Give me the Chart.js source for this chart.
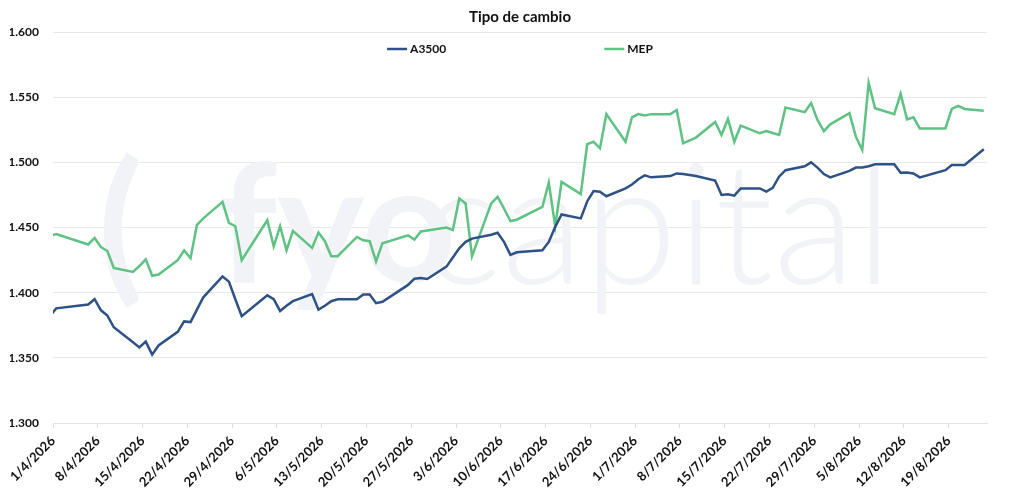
<!DOCTYPE html>
<html lang="es">
<head>
    <meta charset="UTF-8">
    <title>Tipo de cambio</title>
    <script src="https://cdn.jsdelivr.net/npm/chart.js"></script>
    <style>
        html, body {
            margin: 0;
            padding: 0;
            background: #ffffff;
        }

        #contenedor {
            width: 1024px;
            height: 502px;
        }
    </style>
</head>
<body>
<div id="contenedor">
    <canvas id="tipoCambioCanvas"></canvas>
</div>

<script>
    // Fechas con cotización (2026)
    const fechas = [
        '31/3', '1/4', '6/4', '7/4', '8/4', '9/4', '10/4', '13/4', '14/4', '15/4', '16/4', '17/4',
        '20/4', '21/4', '22/4', '23/4', '24/4', '27/4', '28/4', '29/4', '30/4',
        '4/5', '5/5', '6/5', '7/5', '8/5', '11/5', '12/5', '13/5', '14/5', '15/5',
        '18/5', '19/5', '20/5', '21/5', '22/5', '26/5', '27/5', '28/5', '29/5',
        '1/6', '2/6', '3/6', '4/6', '5/6', '8/6', '9/6', '10/6', '11/6', '12/6',
        '16/6', '17/6', '18/6', '19/6', '22/6', '23/6', '24/6', '25/6', '26/6', '29/6', '30/6',
        '1/7', '2/7', '3/7', '6/7', '7/7', '8/7', '10/7', '13/7', '14/7', '15/7', '16/7', '17/7',
        '20/7', '21/7', '22/7', '23/7', '24/7', '27/7', '28/7', '29/7', '30/7', '31/7',
        '3/8', '4/8', '5/8', '6/8', '7/8', '10/8', '11/8', '12/8', '13/8', '14/8',
        '18/8', '19/8', '20/8', '21/8', '24/8'
    ];

    const a3500 = [
        1382, 1388, 1391, 1395, 1386.5, 1382.5, 1373.5, 1362, 1358, 1362.5, 1352.5, 1359.5,
        1370, 1378, 1377.5, 1387, 1396.5, 1412.5, 1408.5, 1395, 1382,
        1398, 1395, 1386, 1390, 1393.5, 1399, 1387, 1390, 1393.5, 1395,
        1395, 1398.7, 1398.7, 1392, 1393, 1406, 1410.8, 1411.3, 1410.5,
        1420, 1427, 1434, 1439, 1441.5, 1444.5, 1446, 1439, 1429, 1431,
        1432.5, 1439, 1450.5, 1460, 1457, 1470, 1478, 1477.5, 1474, 1480, 1483,
        1487, 1490, 1488.5, 1489.5, 1491.5, 1491, 1489.5, 1486, 1475, 1475.5, 1474.5, 1480,
        1480, 1477.5, 1480.5, 1489, 1494, 1497, 1500, 1496, 1491, 1488.5,
        1493.5, 1496, 1496, 1497, 1498.5, 1498.5, 1492, 1492.3, 1491.5, 1488.5,
        1494, 1498, 1498, 1498, 1510
    ];

    const mep = [
        1443.5, 1445, 1437, 1442, 1435, 1432, 1419, 1416, 1420.5, 1425.6, 1413, 1414,
        1425, 1432.5, 1426.5, 1452, 1457, 1469.7, 1453.5, 1451, 1425,
        1455.6, 1435.6, 1451, 1432.5, 1447.4, 1434.3, 1446.2, 1439.5, 1428, 1428,
        1442.8, 1440.2, 1439.5, 1424, 1438, 1444, 1440.7, 1447, 1447.8,
        1450, 1448, 1472.3, 1468.5, 1428, 1468.5, 1473.5, 1464.6, 1455, 1456,
        1465.8, 1484.5, 1451, 1485, 1475.6, 1514, 1515.8, 1510.8, 1537, 1515.8, 1534.6,
        1537, 1536, 1537, 1537, 1540.2, 1514.6, 1519, 1531, 1521, 1533.3, 1515.8, 1528.2,
        1522.3, 1524, 1522.5, 1521, 1542, 1538.5, 1545.4, 1532.5, 1524, 1529.2,
        1537.7, 1519.7, 1509.5, 1561, 1541.5, 1537, 1552.5, 1533, 1534.6, 1526,
        1526, 1541, 1543.3, 1541, 1539.5
    ];

    // Etiquetas semanales del eje X
    const etiquetasX = [
        '1/4/2026', '8/4/2026', '15/4/2026', '22/4/2026', '29/4/2026', '6/5/2026', '13/5/2026',
        '20/5/2026', '27/5/2026', '3/6/2026', '10/6/2026', '17/6/2026', '24/6/2026', '1/7/2026',
        '8/7/2026', '15/7/2026', '22/7/2026', '29/7/2026', '5/8/2026', '12/8/2026', '19/8/2026'
    ];

    const ticksY = [1300, 1350, 1400, 1450, 1500, 1550, 1600];

    const COLOR_A3500 = '#2e5285';
    const COLOR_MEP = '#5ec282';
    const FUENTE = 'Lato, "Open Sans", sans-serif';

    // dias desde el 1/4/2026
    function diaDelAnio(fecha) {
        const [d, m] = fecha.split('/').map(Number);
        return Math.round((Date.UTC(2026, m - 1, d) - Date.UTC(2026, 3, 1)) / 86400000);
    }

    function serie(valores) {
        return fechas.map((f, i) => ({x: diaDelAnio(f), y: valores[i]}));
    }

    function formatoMiles(v) {
        return String(v).replace(/\B(?=(\d{3})+(?!\d))/g, '.');
    }

    // Marca de agua "fyocapital" de fondo
    const marcaAgua = {
        id: 'marcaAgua',
        beforeDatasetsDraw(chart) {
            const {ctx, chartArea} = chart;
            ctx.save();
            ctx.fillStyle = '#f2f3f6';
            ctx.textBaseline = 'alphabetic';
            ctx.font = 'bold 165px ' + FUENTE;
            ctx.fillText('(', chartArea.left + 45, 282);
            ctx.fillText('fyo', chartArea.left + 165, 282);
            ctx.font = '300 170px ' + FUENTE;
            ctx.fillText('capital', chartArea.left + 368, 284);
            ctx.restore();
        }
    };

    // Leyenda dentro del área del gráfico
    const leyendaInterna = {
        id: 'leyendaInterna',
        afterDatasetsDraw(chart) {
            const {ctx, chartArea} = chart;
            const largoLinea = 20;
            const separacion = 158;
            const y = chartArea.top + 17;
            ctx.save();
            ctx.font = 'bold 12px ' + FUENTE;
            ctx.textBaseline = 'middle';
            const items = chart.data.datasets.map(ds => ({
                texto: ds.label,
                color: ds.borderColor,
                ancho: largoLinea + 3 + ctx.measureText(ds.label).width
            }));
            const total = items.reduce((s, it) => s + it.ancho, 0) + separacion * (items.length - 1);
            let x = (chartArea.left + chartArea.right) / 2 - total / 2;
            items.forEach(it => {
                ctx.strokeStyle = it.color;
                ctx.lineWidth = 2.5;
                ctx.beginPath();
                ctx.moveTo(x, y);
                ctx.lineTo(x + largoLinea, y);
                ctx.stroke();
                ctx.fillStyle = '#111111';
                ctx.fillText(it.texto, x + largoLinea + 3, y);
                x += it.ancho + separacion;
            });
            ctx.restore();
        }
    };

    let chartTipoCambio;

    function initializeChart() {
        const ctx = document.getElementById('tipoCambioCanvas').getContext('2d');
        chartTipoCambio = new Chart(ctx, {
            type: 'line',
            data: {
                datasets: [{
                    label: 'A3500',
                    data: serie(a3500),
                    borderColor: COLOR_A3500,
                    backgroundColor: COLOR_A3500,
                    borderWidth: 2.5,
                    pointRadius: 0,
                    tension: 0,
                    spanGaps: true
                }, {
                    label: 'MEP',
                    data: serie(mep),
                    borderColor: COLOR_MEP,
                    backgroundColor: COLOR_MEP,
                    borderWidth: 2.5,
                    pointRadius: 0,
                    tension: 0,
                    spanGaps: true
                }]
            },
            options: {
                responsive: true,
                maintainAspectRatio: false,
                animation: false,
                layout: {
                    padding: {left: 10, right: 37, top: 0, bottom: 7}
                },
                plugins: {
                    legend: {display: false},
                    tooltip: {enabled: false},
                    title: {
                        display: true,
                        text: 'Tipo de cambio',
                        fullSize: false,
                        color: '#111111',
                        font: {family: FUENTE, size: 15, weight: 'bold'},
                        padding: {top: 8, bottom: 6}
                    }
                },
                scales: {
                    x: {
                        type: 'linear',
                        // cotizaciones al mediodía: el eje arranca a medianoche del 1/4
                        min: -0.5,
                        max: 145.5,
                        afterBuildTicks: (axis) => {
                            axis.ticks = etiquetasX.map((e, i) => ({value: i * 7 - 0.5}));
                        },
                        grid: {
                            drawOnChartArea: false,
                            drawTicks: true,
                            tickLength: 5,
                            color: '#dddddd'
                        },
                        border: {display: true, color: '#e3e3e3'},
                        ticks: {
                            autoSkip: false,
                            minRotation: 45,
                            maxRotation: 45,
                            padding: 5,
                            color: '#111111',
                            font: {family: FUENTE, size: 13, weight: 'bold'},
                            callback: (value, index) => etiquetasX[index]
                        }
                    },
                    y: {
                        min: 1300,
                        max: 1600,
                        afterBuildTicks: (axis) => {
                            axis.ticks = ticksY.map(v => ({value: v}));
                        },
                        afterFit: (axis) => {
                            axis.width = 43;
                        },
                        grid: {
                            color: '#e8e8e8',
                            drawTicks: false
                        },
                        border: {display: false},
                        ticks: {
                            padding: 14,
                            color: '#111111',
                            font: {family: FUENTE, size: 12, weight: 'bold'},
                            callback: (value) => formatoMiles(value)
                        }
                    }
                }
            },
            plugins: [marcaAgua, leyendaInterna]
        });
    }

    window.onload = () => {
        initializeChart();
    };
</script>
</body>
</html>
